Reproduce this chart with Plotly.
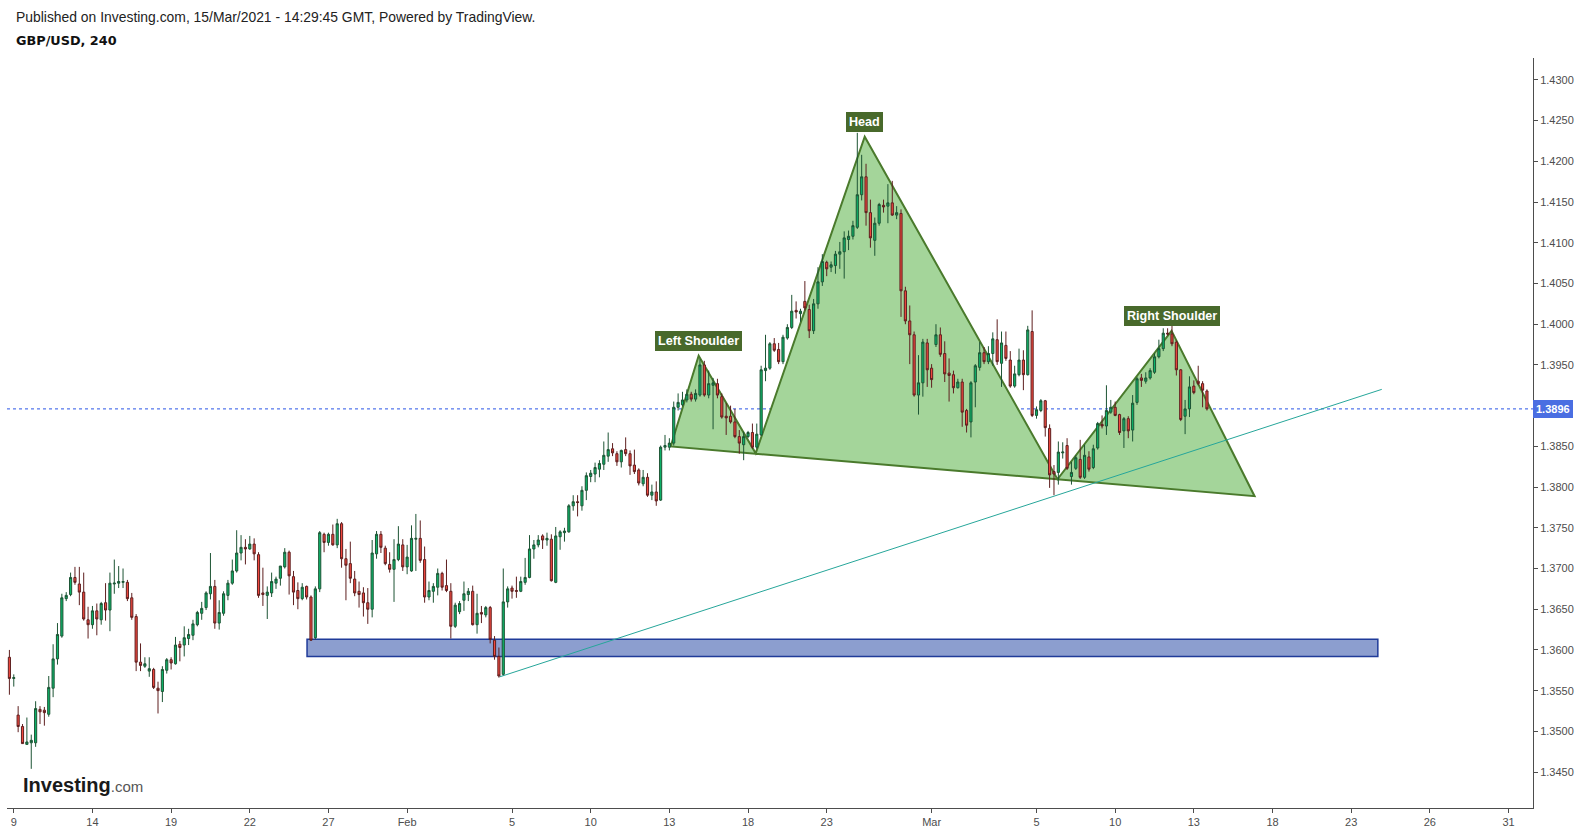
import plotly.graph_objects as go

# ---- GBP/USD 4h candles (bar index 0 = last bar of Jan 8; weekends removed) ----
open_ = [1.3591,1.3565,1.3520,1.3506,1.3484,1.3486,1.3486,1.3527,1.3526,1.3521,
         1.3553,1.3589,1.3617,1.3663,1.3668,1.3689,1.3681,1.3671,1.3637,1.3631,
         1.3648,1.3637,1.3658,1.3649,1.3681,1.3682,1.3683,1.3683,1.3664,1.3641,
         1.3585,1.3580,1.3574,1.3576,1.3553,1.3549,1.3575,1.3588,1.3583,1.3607,
         1.3606,1.3614,1.3618,1.3631,1.3645,1.3652,1.3669,1.3678,1.3633,1.3645,
         1.3667,1.3682,1.3697,1.3719,1.3726,1.3724,1.3730,1.3717,1.3670,1.3667,
         1.3670,1.3682,1.3688,1.3702,1.3720,1.3690,1.3673,1.3663,1.3678,1.3665,
         1.3615,1.3675,1.3742,1.3732,1.3742,1.3729,1.3755,1.3712,1.3706,1.3687,
         1.3672,1.3670,1.3658,1.3650,1.3718,1.3742,1.3725,1.3705,1.3699,1.3711,
         1.3729,1.3702,1.3697,1.3736,1.3737,1.3711,1.3665,1.3672,1.3677,1.3694,
         1.3679,1.3672,1.3629,1.3647,1.3661,1.3668,1.3672,1.3631,1.3646,1.3643,
         1.3652,1.3612,1.3592,1.3570,1.3659,1.3676,1.3673,1.3672,1.3683,1.3689,
         1.3724,1.3729,1.3740,1.3735,1.3736,1.3683,1.3739,1.3744,1.3745,1.3777,
         1.3782,1.3777,1.3796,1.3813,1.3816,1.3822,1.3828,1.3838,1.3847,1.3841,
         1.3831,1.3846,1.3841,1.3827,1.3821,1.3804,1.3812,1.3790,1.3794,1.3784,
         1.3849,1.3849,1.3854,1.3898,1.3901,1.3907,1.3914,1.3908,1.3913,1.3950,
         1.3913,1.3925,1.3927,1.3911,1.3887,1.3887,1.3880,1.3862,1.3852,1.3862,
         1.3867,1.3849,1.3864,1.3943,1.3946,1.3976,1.3969,1.3954,1.3983,1.3996,
         1.4017,1.4013,1.4028,1.4018,1.3992,1.4025,1.4052,1.4076,1.4070,1.4072,
         1.4086,1.4089,1.4104,1.4108,1.4119,1.4159,1.4181,1.4137,1.4103,1.4124,
         1.4146,1.4145,1.4149,1.4134,1.4136,1.4041,1.4004,1.3987,1.3913,1.3928,
         1.3977,1.3946,1.3975,1.3987,1.3964,1.3940,1.3938,1.3922,1.3929,1.3894,
         1.3880,1.3929,1.3947,1.3965,1.3954,1.3964,1.3981,1.3952,1.3974,1.3956,
         1.3924,1.3938,1.3956,1.3938,1.3991,1.3888,1.3894,1.3906,1.3872,1.3819,
         1.3818,1.3842,1.3851,1.3813,1.3823,1.3834,1.3812,1.3837,1.3824,1.3848,
         1.3877,1.3875,1.3892,1.3898,1.3889,1.3869,1.3884,1.3870,1.3904,1.3934,
         1.3930,1.3934,1.3941,1.3960,1.3970,1.3989,1.3988,1.3978,1.3944,1.3887,
         1.3896,1.3924,1.3930,1.3927,1.3918]
high_ = [1.3600,1.3570,1.3531,1.3509,1.3517,1.3496,1.3537,1.3531,1.3530,1.3568,
         1.3607,1.3633,1.3669,1.3671,1.3695,1.3702,1.3702,1.3695,1.3653,1.3654,
         1.3657,1.3659,1.3682,1.3695,1.3711,1.3703,1.3700,1.3686,1.3670,1.3644,
         1.3608,1.3591,1.3591,1.3578,1.3561,1.3580,1.3590,1.3591,1.3616,1.3611,
         1.3629,1.3626,1.3637,1.3648,1.3659,1.3672,1.3719,1.3686,1.3661,1.3672,
         1.3686,1.3711,1.3747,1.3741,1.3736,1.3740,1.3737,1.3720,1.3701,1.3678,
         1.3695,1.3690,1.3703,1.3725,1.3722,1.3697,1.3683,1.3682,1.3679,1.3667,
         1.3678,1.3746,1.3744,1.3744,1.3754,1.3761,1.3757,1.3724,1.3733,1.3697,
         1.3684,1.3677,1.3676,1.3735,1.3746,1.3746,1.3728,1.3720,1.3736,1.3752,
         1.3736,1.3729,1.3753,1.3767,1.3759,1.3727,1.3684,1.3682,1.3700,1.3696,
         1.3711,1.3682,1.3658,1.3660,1.3684,1.3676,1.3679,1.3669,1.3654,1.3654,
         1.3654,1.3617,1.3603,1.3700,1.3678,1.3679,1.3690,1.3690,1.3713,1.3741,
         1.3735,1.3741,1.3742,1.3744,1.3742,1.3751,1.3747,1.3750,1.3779,1.3790,
         1.3790,1.3801,1.3818,1.3821,1.3830,1.3833,1.3856,1.3867,1.3854,1.3844,
         1.3846,1.3861,1.3845,1.3846,1.3823,1.3821,1.3817,1.3803,1.3807,1.3851,
         1.3864,1.3860,1.3905,1.3915,1.3917,1.3920,1.3917,1.3920,1.3957,1.3955,
         1.3943,1.3934,1.3933,1.3915,1.3903,1.3900,1.3896,1.3870,1.3868,1.3869,
         1.3878,1.3878,1.3949,1.3987,1.3978,1.3983,1.3977,1.3987,1.4000,1.4036,
         1.4028,1.4019,1.4053,1.4024,1.4031,1.4070,1.4086,1.4078,1.4077,1.4090,
         1.4101,1.4114,1.4115,1.4127,1.4235,1.4208,1.4197,1.4153,1.4131,1.4149,
         1.4153,1.4172,1.4176,1.4145,1.4141,1.4046,1.4023,1.3991,1.3962,1.3982,
         1.3982,1.3951,1.4000,1.3996,1.3979,1.3958,1.3943,1.3933,1.3933,1.3896,
         1.3930,1.3951,1.3978,1.3972,1.3973,1.3990,1.4006,1.3991,1.3991,1.3967,
         1.3949,1.3970,1.3968,1.3998,1.4017,1.3899,1.3908,1.3907,1.3877,1.3827,
         1.3856,1.3855,1.3860,1.3831,1.3839,1.3858,1.3852,1.3844,1.3852,1.3880,
         1.3888,1.3925,1.3907,1.3905,1.3890,1.3886,1.3887,1.3913,1.3935,1.3939,
         1.3941,1.3946,1.3964,1.3981,1.3995,1.3995,1.3999,1.3980,1.3945,1.3907,
         1.3936,1.3931,1.3949,1.3930,1.3920]
low_ = [1.3545,1.3555,1.3499,1.3485,1.3484,1.3454,1.3481,1.3509,1.3507,1.3518,
        1.3542,1.3582,1.3615,1.3660,1.3666,1.3680,1.3655,1.3636,1.3614,1.3626,
        1.3618,1.3631,1.3636,1.3623,1.3669,1.3676,1.3676,1.3660,1.3637,1.3574,
        1.3574,1.3578,1.3567,1.3552,1.3522,1.3536,1.3571,1.3576,1.3582,1.3586,
        1.3592,1.3606,1.3612,1.3629,1.3637,1.3649,1.3662,1.3626,1.3625,1.3642,
        1.3661,1.3680,1.3695,1.3710,1.3705,1.3723,1.3710,1.3664,1.3654,1.3638,
        1.3665,1.3675,1.3679,1.3700,1.3668,1.3655,1.3650,1.3661,1.3662,1.3611,
        1.3613,1.3671,1.3720,1.3728,1.3728,1.3725,1.3701,1.3661,1.3682,1.3666,
        1.3652,1.3641,1.3632,1.3640,1.3712,1.3719,1.3704,1.3695,1.3659,1.3709,
        1.3697,1.3693,1.3696,1.3697,1.3707,1.3658,1.3661,1.3658,1.3667,1.3673,
        1.3671,1.3614,1.3627,1.3644,1.3648,1.3660,1.3630,1.3620,1.3633,1.3640,
        1.3608,1.3588,1.3566,1.3568,1.3652,1.3663,1.3664,1.3671,1.3680,1.3688,
        1.3712,1.3726,1.3724,1.3728,1.3684,1.3682,1.3723,1.3733,1.3744,1.3771,
        1.3764,1.3771,1.3784,1.3806,1.3806,1.3812,1.3821,1.3831,1.3838,1.3826,
        1.3824,1.3838,1.3815,1.3816,1.3802,1.3801,1.3788,1.3784,1.3777,1.3783,
        1.3845,1.3845,1.3851,1.3894,1.3899,1.3904,1.3905,1.3905,1.3911,1.3911,
        1.3909,1.3871,1.3909,1.3884,1.3864,1.3878,1.3860,1.3841,1.3833,1.3860,
        1.3847,1.3847,1.3863,1.3930,1.3944,1.3966,1.3951,1.3951,1.3981,1.3994,
        1.4007,1.4003,1.4017,1.3983,1.3988,1.4019,1.4047,1.4059,1.4064,1.4062,
        1.4068,1.4056,1.4091,1.4104,1.4117,1.4152,1.4121,1.4094,1.4084,1.4121,
        1.4137,1.4124,1.4133,1.4129,1.4009,1.4000,1.3951,1.3911,1.3889,1.3911,
        1.3923,1.3922,1.3972,1.3960,1.3929,1.3905,1.3915,1.3921,1.3874,1.3867,
        1.3861,1.3898,1.3943,1.3951,1.3951,1.3949,1.3950,1.3923,1.3955,1.3922,
        1.3922,1.3936,1.3919,1.3937,1.3886,1.3884,1.3892,1.3862,1.3799,1.3790,
        1.3803,1.3835,1.3821,1.3803,1.3821,1.3810,1.3810,1.3819,1.3822,1.3846,
        1.3872,1.3864,1.3890,1.3887,1.3864,1.3848,1.3860,1.3856,1.3901,1.3923,
        1.3927,1.3932,1.3939,1.3958,1.3967,1.3986,1.3973,1.3937,1.3881,1.3865,
        1.3886,1.3914,1.3925,1.3898,1.3894]
close_ = [1.3565,1.3566,1.3506,1.3485,1.3487,1.3489,1.3528,1.3524,1.3523,1.3554,
          1.3589,1.3619,1.3664,1.3667,1.3689,1.3683,1.3671,1.3638,1.3631,1.3648,
          1.3638,1.3657,1.3649,1.3682,1.3682,1.3684,1.3684,1.3663,1.3640,1.3585,
          1.3581,1.3583,1.3577,1.3554,1.3550,1.3576,1.3588,1.3584,1.3606,1.3603,
          1.3615,1.3619,1.3632,1.3646,1.3651,1.3670,1.3678,1.3633,1.3646,1.3669,
          1.3682,1.3697,1.3719,1.3726,1.3724,1.3730,1.3718,1.3667,1.3668,1.3671,
          1.3684,1.3687,1.3703,1.3720,1.3691,1.3671,1.3663,1.3677,1.3665,1.3612,
          1.3675,1.3744,1.3732,1.3742,1.3729,1.3755,1.3712,1.3704,1.3688,1.3670,
          1.3668,1.3658,1.3650,1.3719,1.3742,1.3726,1.3706,1.3699,1.3711,1.3730,
          1.3702,1.3714,1.3737,1.3737,1.3710,1.3665,1.3673,1.3678,1.3694,1.3677,
          1.3673,1.3629,1.3655,1.3657,1.3669,1.3672,1.3631,1.3645,1.3644,1.3652,
          1.3613,1.3592,1.3568,1.3659,1.3675,1.3672,1.3672,1.3684,1.3689,1.3724,
          1.3729,1.3735,1.3735,1.3737,1.3685,1.3740,1.3745,1.3746,1.3777,1.3782,
          1.3781,1.3796,1.3814,1.3817,1.3824,1.3829,1.3839,1.3846,1.3842,1.3831,
          1.3845,1.3841,1.3826,1.3819,1.3805,1.3812,1.3790,1.3794,1.3783,1.3849,
          1.3851,1.3854,1.3898,1.3904,1.3907,1.3914,1.3908,1.3915,1.3950,1.3913,
          1.3927,1.3928,1.3913,1.3886,1.3885,1.3880,1.3862,1.3854,1.3862,1.3867,
          1.3849,1.3865,1.3944,1.3946,1.3976,1.3968,1.3954,1.3984,1.3996,1.4016,
          1.4015,1.4016,1.4020,1.3992,1.4025,1.4052,1.4077,1.4068,1.4073,1.4086,
          1.4089,1.4106,1.4108,1.4121,1.4159,1.4181,1.4137,1.4106,1.4124,1.4147,
          1.4144,1.4149,1.4134,1.4137,1.4041,1.4004,1.3987,1.3913,1.3928,1.3978,
          1.3944,1.3932,1.3987,1.3963,1.3939,1.3937,1.3922,1.3929,1.3892,1.3876,
          1.3928,1.3949,1.3965,1.3954,1.3964,1.3982,1.3954,1.3977,1.3958,1.3924,
          1.3939,1.3956,1.3938,1.3993,1.3888,1.3895,1.3906,1.3873,1.3815,1.3816,
          1.3843,1.3843,1.3823,1.3818,1.3836,1.3812,1.3839,1.3822,1.3847,1.3878,
          1.3875,1.3894,1.3898,1.3888,1.3867,1.3884,1.3869,1.3903,1.3933,1.3931,
          1.3934,1.3943,1.3960,1.3970,1.3989,1.3988,1.3976,1.3944,1.3883,1.3896,
          1.3923,1.3916,1.3927,1.3919,1.3896]
bars = list(range(len(close_)))

# ---- x-axis day labels (bar index of the first bar of each labelled day) ----
tick_bars = [1, 19, 37, 55, 73, 91, 115, 133, 151, 169, 187, 211, 235, 253, 271, 289, 307, 325, 343]
tick_text = ["9", "14", "19", "22", "27", "Feb", "5", "10", "13", "18", "23", "Mar",
             "5", "10", "13", "18", "23", "26", "31"]
price_ticks = [1.3450, 1.3500, 1.3550, 1.3600, 1.3650, 1.3700, 1.3750, 1.3800, 1.3850,
               1.3950, 1.4000, 1.4050, 1.4100, 1.4150, 1.4200, 1.4250, 1.4300]

# ---- drawings ----
hs_bar = [151.3, 157.7, 170.75, 195.7, 239.8, 265.9, 284.9]
hs_price = [1.38499, 1.39612, 1.38414, 1.42303, 1.38096, 1.39918, 1.37888]
hs_labels = {1: "Left Shoulder", 3: "Head", 5: "Right Shoulder"}
zone_bar = [68.1, 313.1]
zone_price = [1.3592, 1.3613]
trend_bar = [112.2, 314.0]
trend_price = [1.3567, 1.3920]
last_price = 1.3896

fig = go.Figure()
fig.add_trace(go.Candlestick(
    x=bars, open=open_, high=high_, low=low_, close=close_,
    increasing=dict(fillcolor="#0cb46a", line=dict(color="#1d5434", width=1)),
    decreasing=dict(fillcolor="#f0483e", line=dict(color="#5e1f1f", width=1)),
    whiskerwidth=0, showlegend=False, hoverinfo="x+y"))

path = "M " + " L ".join(f"{b},{p}" for b, p in zip(hs_bar, hs_price)) + " Z"
shapes = [
    dict(type="rect", xref="x", yref="y", x0=zone_bar[0], x1=zone_bar[1],
         y0=zone_price[0], y1=zone_price[1], fillcolor="#8c9ecf",
         line=dict(color="#1f3b99", width=1.5), layer="below"),
    dict(type="path", xref="x", yref="y", path=path, fillcolor="#a4d59a",
         line=dict(color="#4a7a2c", width=2), layer="below"),
    dict(type="line", xref="paper", yref="y", x0=0, x1=1, y0=last_price, y1=last_price,
         line=dict(color="#2a55e6", width=1, dash="dot"), layer="below"),
    dict(type="line", xref="x", yref="y", x0=trend_bar[0], x1=trend_bar[1],
         y0=trend_price[0], y1=trend_price[1],
         line=dict(color="#26a69a", width=1), layer="above"),
]

annotations = []
for k, txt in hs_labels.items():
    annotations.append(dict(
        x=hs_bar[k], y=hs_price[k], xref="x", yref="y", text=f"<b>{txt}</b>",
        showarrow=False, yanchor="bottom", yshift=5,
        bgcolor="#48692b", bordercolor="#48692b", borderpad=2,
        font=dict(color="white", size=12.6, family="Liberation Sans, Arial, sans-serif")))

annotations.append(dict(
    x=1, y=last_price, xref="paper", yref="y", xanchor="left", yanchor="middle",
    text="<b>1.3896</b>", showarrow=False, bgcolor="#4a6ee2", bordercolor="#4a6ee2",
    borderpad=2, font=dict(color="white", size=11, family="Liberation Sans, Arial, sans-serif")))

annotations.append(dict(
    x=0.0046, y=1.0544, xref="paper", yref="paper", xanchor="left", yanchor="middle",
    text="Published on Investing.com, 15/Mar/2021 - 14:29:45 GMT, Powered by TradingView.",
    showarrow=False, font=dict(color="#222222", size=13.9, family="Liberation Sans, Arial, sans-serif")))
annotations.append(dict(
    x=0.0046, y=1.0239, xref="paper", yref="paper", xanchor="left", yanchor="middle",
    text="<b>GBP/USD, 240</b>", showarrow=False,
    font=dict(color="#111111", size=12.8, family="DejaVu Sans, sans-serif")))
annotations.append(dict(
    x=0.009, y=0.031, xref="paper", yref="paper", xanchor="left", yanchor="middle",
    text="<b>Investing</b><span style='font-size:15px;color:#555555'>.com</span>",
    showarrow=False, font=dict(color="#1a1a1a", size=20, family="Liberation Sans, Arial, sans-serif")))

axis_color = "#4d4d4d"
fig.update_layout(
    width=1585, height=835,
    margin=dict(l=7, r=52, t=58, b=24),
    paper_bgcolor="white", plot_bgcolor="white",
    font=dict(family="Liberation Sans, Arial, sans-serif", color=axis_color, size=11),
    showlegend=False,
    shapes=shapes, annotations=annotations,
    xaxis=dict(range=[-0.55, 348.6], tickvals=tick_bars, ticktext=tick_text,
               showgrid=False, zeroline=False, showline=True, linecolor=axis_color,
               linewidth=1, ticks="outside", ticklen=4, tickcolor=axis_color,
               tickfont=dict(size=11, color=axis_color), rangeslider=dict(visible=False)),
    yaxis=dict(range=[1.34059, 1.43269], side="right", tickvals=price_ticks,
               tickformat=".4f", showgrid=False, zeroline=False, showline=True,
               linecolor=axis_color, linewidth=1, ticks="outside", ticklen=4,
               tickcolor=axis_color, tickfont=dict(size=11, color=axis_color)),
)

fig.write_html("out.html", config={"displayModeBar": False},
               post_script="document.body.style.margin='0';")
